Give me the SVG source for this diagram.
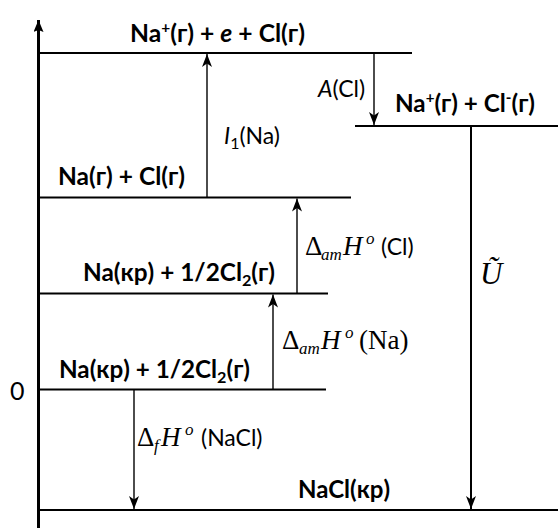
<svg xmlns="http://www.w3.org/2000/svg" width="558" height="528" viewBox="0 0 558 528">
<defs>
<style>
.lvl{stroke:#000;stroke-width:2.2;fill:none}
.axis{stroke:#000;stroke-width:3;fill:none}
.arr{stroke:#000;stroke-width:1.4;fill:none;marker-end:url(#ah)}
.lab{font-family:Lato,"Liberation Sans",sans-serif;font-weight:bold;font-size:24px;fill:#000}
.reg{font-family:Lato,"Liberation Sans",sans-serif;font-size:23px;fill:#000}
.tm{font-family:"Liberation Serif","Times New Roman",serif;font-size:27px;fill:#000}
.sn{font-family:Lato,"Liberation Sans",sans-serif;font-size:23px}
</style>
<marker id="ah" markerWidth="14" markerHeight="12" refX="13" refY="6" orient="auto" markerUnits="userSpaceOnUse">
<path d="M0,1 L13,6 L0,11 L3.5,6 z" fill="#000"/>
</marker>
<marker id="axh" markerWidth="10" markerHeight="14" refX="12" refY="5" orient="auto" markerUnits="userSpaceOnUse">
<path d="M0,0 L12,5 L0,10 L2,5 z" fill="#000"/>
</marker>
</defs>

<g id="axis">
<line class="axis" x1="38.5" y1="528" x2="38.5" y2="20" style="marker-end:url(#axh)"/>
<text class="reg" x="10" y="400" style="font-size:25px">0</text>
</g>

<g id="levels">
<g id="lvl-ion-e"><line class="lvl" x1="38" y1="53" x2="412" y2="53"/>
<text class="lab" x="130" y="42" textLength="175" lengthAdjust="spacingAndGlyphs">Na<tspan dy="-9" font-size="15">+</tspan><tspan dy="9">(г) + </tspan><tspan font-style="italic">e</tspan> + Cl(г)</text></g>
<g id="lvl-ions"><line class="lvl" x1="355" y1="126" x2="558" y2="126"/>
<text class="lab" x="395" y="112" textLength="140" lengthAdjust="spacingAndGlyphs">Na<tspan dy="-9" font-size="15">+</tspan><tspan dy="9">(г) + Cl</tspan><tspan dy="-9" font-size="15">-</tspan><tspan dy="9">(г)</tspan></text></g>
<g id="lvl-gas"><line class="lvl" x1="38" y1="197.5" x2="351" y2="197.5"/>
<text class="lab" x="58" y="185" textLength="127" lengthAdjust="spacingAndGlyphs">Na(г) + Cl(г)</text></g>
<g id="lvl-atomNa"><line class="lvl" x1="38" y1="293.5" x2="328" y2="293.5"/>
<text class="lab" x="83" y="281" textLength="192" lengthAdjust="spacingAndGlyphs">Na(кр) + 1/2Cl<tspan dy="5" font-size="16">2</tspan><tspan dy="-5">(г)</tspan></text></g>
<g id="lvl-zero"><line class="lvl" x1="38" y1="389.5" x2="326" y2="389.5"/>
<text class="lab" x="59" y="378" textLength="191" lengthAdjust="spacingAndGlyphs">Na(кр) + 1/2Cl<tspan dy="5" font-size="16">2</tspan><tspan dy="-5">(г)</tspan></text></g>
<g id="lvl-nacl"><line class="lvl" x1="38" y1="510" x2="558" y2="510"/>
<text class="lab" x="298" y="498" textLength="92" lengthAdjust="spacingAndGlyphs">NaCl(кр)</text></g>
</g>

<g id="connectors">
<line class="arr" x1="207" y1="197" x2="207" y2="54"/>
<line class="arr" x1="374" y1="53" x2="374" y2="125"/>
<line class="arr" x1="471" y1="126" x2="471" y2="509" style="stroke-width:2"/>
<line class="arr" x1="297" y1="293" x2="297" y2="198.5"/>
<line class="arr" x1="273" y1="389" x2="273" y2="294.5"/>
<line class="arr" x1="134" y1="390" x2="134" y2="509"/>
</g>

<g id="labels">
<text class="reg" x="224" y="144"><tspan font-style="italic">I</tspan><tspan dy="5" font-size="16">1</tspan><tspan dy="-5">(Na)</tspan></text>
<text class="reg" x="318" y="97"><tspan font-style="italic">A</tspan>(Cl)</text>
<text class="tm" y="255"><tspan x="305">Δ</tspan><tspan x="321" dy="5" font-size="17" font-style="italic">am</tspan><tspan x="343" dy="-5" font-style="italic">H</tspan><tspan x="366" dy="-11" font-size="17" font-style="italic">o</tspan><tspan x="381" dy="11" class="sn">(Cl)</tspan></text>
<text class="tm" y="349"><tspan x="282">Δ</tspan><tspan x="299" dy="5" font-size="17" font-style="italic">am</tspan><tspan x="321" dy="-5" font-style="italic">H</tspan><tspan x="345" dy="-11" font-size="17" font-style="italic">o</tspan><tspan x="359" dy="11">(Na)</tspan></text>
<text class="tm" y="446"><tspan x="137">Δ</tspan><tspan x="154" dy="5" font-size="17" font-style="italic">f</tspan><tspan x="161" dy="-5" font-style="italic">H</tspan><tspan x="185" dy="-11" font-size="17" font-style="italic">o</tspan><tspan x="201" dy="11" class="sn">(NaCl)</tspan></text>
<text class="tm" x="480" y="284" font-style="italic" style="font-size:31px">Ũ</text>
</g>
</svg>
